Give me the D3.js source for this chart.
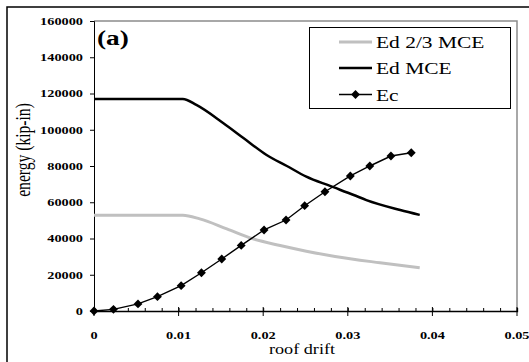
<!DOCTYPE html>
<html>
<head>
<meta charset="utf-8">
<script src="https://cdn.jsdelivr.net/npm/d3@7"></script>
<style>
  body { margin: 0; background: #fff; }
  svg { display: block; }
  text { font-family: "Liberation Serif", "Times New Roman", serif; fill: #000; }
</style>
</head>
<body>
<div id="plot"></div>
<script>
// chart size and plot area
const svgWidth = 529;
const svgHeight = 362;
const plot = {left: 94, right: 517, top: 21, bottom: 311};
const stretch = 1.3; // text in the source is a bit wider than tall

// data
const xTicks = [0, 0.01, 0.02, 0.03, 0.04, 0.05];
const yTicks = [0, 20000, 40000, 60000, 80000, 100000, 120000, 140000, 160000];

const ed23Drift  = [0, 0.0105, 0.0125, 0.0157, 0.0188, 0.0220, 0.0251, 0.0285, 0.0338, 0.0385];
const ed23Energy = [52800, 52800, 50800, 45300, 39800, 36100, 33000, 30100, 26600, 23800];

const edDrift  = [0, 0.0105, 0.0121, 0.0153, 0.0177, 0.0204, 0.0228, 0.0251, 0.0279, 0.0307, 0.0322, 0.0362, 0.0385];
const edEnergy = [117000, 117000, 113700, 103600, 95300, 86100, 80000, 74100, 69000, 64000, 61200, 55700, 53000];

const ecDrift  = [0, 0.0023, 0.0052, 0.0075, 0.0103, 0.0127, 0.0151, 0.0174, 0.0201, 0.0227, 0.0249, 0.0273, 0.0303, 0.0326, 0.0351, 0.0375];
const ecEnergy = [0, 900, 3900, 7900, 14000, 21100, 28700, 36200, 44700, 50200, 58100, 65800, 74500, 80000, 85500, 87300];

const legendNames = ["Ed 2/3 MCE", "Ed MCE", "Ec"];

let svg = d3.select("#plot")
  .append("svg")
  .attr("width", svgWidth)
  .attr("height", svgHeight);

// outer frame
svg.append("rect")
  .attr("x", 7).attr("y", 7)
  .attr("width", 540).attr("height", 380)
  .attr("fill", "none").attr("stroke", "#000").attr("stroke-width", 1.5);

var x = d3.scaleLinear().domain([0, 0.05]).range([plot.left, plot.right]);
var y = d3.scaleLinear().domain([0, 160000]).range([plot.bottom, plot.top]);

// grey plot border (top and right)
svg.append("path")
  .attr("d", "M" + plot.left + "," + plot.top + "H" + plot.right + "V" + plot.bottom)
  .attr("fill", "none").attr("stroke", "#8c8c8c").attr("stroke-width", 1.5);

// helper: put a stretched text at a point
function label(txt, px, py, size, weight, anchor) {
  return svg.append("text")
    .attr("transform", "translate(" + px + "," + py + ") scale(" + stretch + ",1)")
    .attr("font-size", size)
    .attr("font-weight", weight)
    .attr("text-anchor", anchor)
    .text(txt);
}

// y axis
svg.append("g")
  .attr("transform", "translate(" + plot.left + ",0)")
  .call(d3.axisLeft(y).tickValues(yTicks).tickSize(4).tickFormat(""))
  .call(g => g.select(".domain").attr("stroke", "#000"));
yTicks.forEach(function(t) {
  label(String(t), 83, y(t) + 3.8, 11, "bold", "end");
});

// x axis: minor ticks inside, major ticks crossing
svg.append("g")
  .attr("transform", "translate(0," + plot.bottom + ")")
  .call(d3.axisBottom(x).tickValues(d3.range(0, 0.0501, 0.002)).tickSize(-3).tickFormat(""))
  .call(g => g.select(".domain").attr("stroke", "#000").attr("stroke-width", 1.3));
svg.append("g")
  .selectAll("line")
  .data(xTicks)
  .enter()
  .append("line")
  .attr("x1", d => x(d)).attr("x2", d => x(d))
  .attr("y1", plot.bottom - 4).attr("y2", plot.bottom + 5)
  .attr("stroke", "#000");
xTicks.forEach(function(t) {
  label(t === 0 ? "0" : String(t), x(t), 339, 11, "bold", "middle");
});

// axis titles
label("roof drift", 302, 354, 14, "normal", "middle");
svg.append("text")
  .attr("transform", "translate(29.5,150) rotate(-90) scale(1," + stretch + ")")
  .attr("font-size", 15.6)
  .attr("text-anchor", "middle")
  .text("energy (kip-in)");

// panel tag
label("(a)", 97, 45, 21, "bold", "start");

// lines
var smooth = d3.line().x(d => x(d[0])).y(d => y(d[1])).curve(d3.curveMonotoneX);
var straight = d3.line().x(d => x(d[0])).y(d => y(d[1]));

svg.append("path")
  .datum(d3.zip(ed23Drift, ed23Energy))
  .attr("d", smooth)
  .attr("fill", "none").attr("stroke", "#c0c0c0").attr("stroke-width", 3);

svg.append("path")
  .datum(d3.zip(edDrift, edEnergy))
  .attr("d", smooth)
  .attr("fill", "none").attr("stroke", "#000").attr("stroke-width", 2.5);

svg.append("path")
  .datum(d3.zip(ecDrift, ecEnergy))
  .attr("d", straight)
  .attr("fill", "none").attr("stroke", "#000").attr("stroke-width", 1.4);

var diamond = d3.symbol().type(d3.symbolDiamond2).size(50);
svg.append("g")
  .selectAll("path")
  .data(d3.zip(ecDrift, ecEnergy))
  .enter()
  .append("path")
  .attr("transform", d => "translate(" + x(d[0]) + "," + y(d[1]) + ")")
  .attr("d", diamond)
  .attr("fill", "#000");

// legend
var legend = svg.append("g");
legend.append("rect")
  .attr("x", 309.5).attr("y", 27.5)
  .attr("width", 201).attr("height", 81)
  .attr("fill", "#fff").attr("stroke", "#000").attr("stroke-width", 1);

const legendColors = ["#c0c0c0", "#000", "#000"];
const legendWidths = [3, 2.5, 1.4];
const rowY = [42, 68, 94.5];
legendNames.forEach(function(name, i) {
  legend.append("line")
    .attr("x1", 339).attr("x2", 372)
    .attr("y1", rowY[i]).attr("y2", rowY[i])
    .attr("stroke", legendColors[i]).attr("stroke-width", legendWidths[i]);
  label(name, 376, rowY[i] + 6.3, 16.5, "normal", "start");
});
legend.append("path")
  .attr("transform", "translate(355.5," + rowY[2] + ")")
  .attr("d", diamond)
  .attr("fill", "#000");
</script>
</body>
</html>
